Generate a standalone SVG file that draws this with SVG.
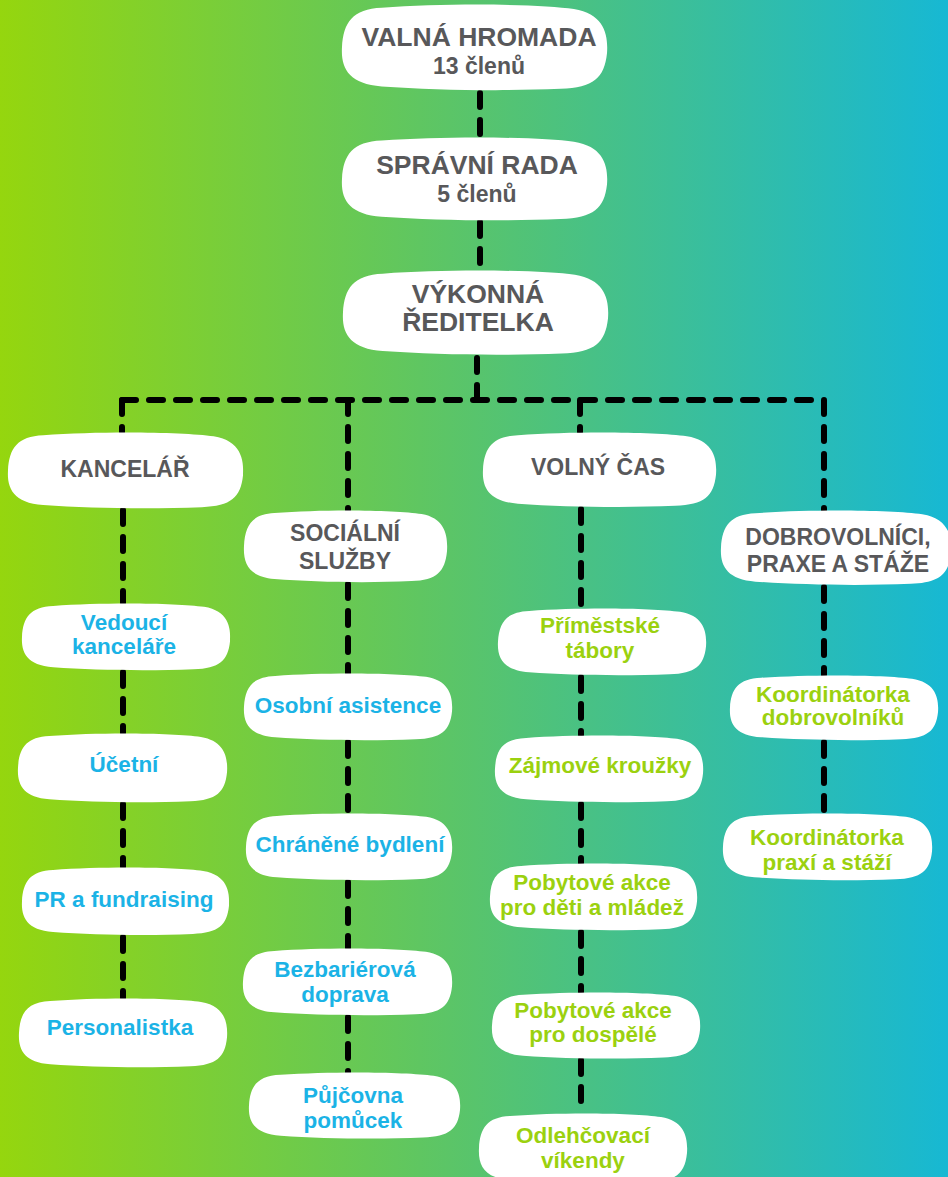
<svg xmlns="http://www.w3.org/2000/svg" xmlns:xlink="http://www.w3.org/1999/xlink" width="948" height="1177" viewBox="0 0 948 1177">
<defs>
<linearGradient id="bg" x1="0" y1="0" x2="1" y2="0">
<stop offset="0" stop-color="#95d60e"/>
<stop offset="0.5" stop-color="#58c46c"/>
<stop offset="1" stop-color="#17b8d3"/>
</linearGradient>
<path id="blob" d="M 30,3 C 80,-1 150,0 175,4 C 198,8 201,25 200,40 C 198,60 190,68 165,69 C 120,71 70,70 30,67 C 5,65 -1,52 0,35 C 1,15 8,4 30,3 Z"/>
<style>
.box{fill:#ffffff}
.t{font-family:"Liberation Sans",Arial,sans-serif;font-weight:700;text-anchor:middle}
.g{fill:#58585a;font-size:23px}
.g24{fill:#58585a;font-size:26.5px}
.b{fill:#1bb3e6;font-size:22.5px}
.l{fill:#9bd10f;font-size:22.5px}
.c{fill:none;stroke:#000;stroke-width:6;stroke-linecap:round;stroke-dasharray:14 13}
</style>
</defs>
<rect width="948" height="1177" fill="url(#bg)"/>
<g id="connectors">
<path class="c" d="M480,93 V136"/>
<path class="c" d="M480,222 V268"/>
<path class="c" d="M477,358 V400"/>
<path class="c" d="M122,400 H823"/>
<path class="c" d="M122,400 V432"/>
<path class="c" d="M123,510 V603"/>
<path class="c" d="M123,672 V733"/>
<path class="c" d="M123,804 V867"/>
<path class="c" d="M123,937 V998"/>
<path class="c" d="M348,400 V510"/>
<path class="c" d="M348,584 V673"/>
<path class="c" d="M348,742 V813"/>
<path class="c" d="M348,882 V948"/>
<path class="c" d="M348,1017 V1072"/>
<path class="c" d="M580,400 V432"/>
<path class="c" d="M581,509 V608"/>
<path class="c" d="M581,677 V735"/>
<path class="c" d="M581,804 V863"/>
<path class="c" d="M581,932 V992"/>
<path class="c" d="M581,1060 V1113"/>
<path class="c" d="M824,400 V510"/>
<path class="c" d="M824,587 V675"/>
<path class="c" d="M824,742 V813"/>
</g>
<g id="n-valna"><use xlink:href="#blob" class="box" transform="translate(342,4) scale(1.325,1.23)"/><text class="t g24" x="479" y="46">VALNÁ HROMADA</text><text class="t g" x="479" y="74">13 členů</text></g>
<g id="n-spravni"><use xlink:href="#blob" class="box" transform="translate(342,137) scale(1.325,1.19)"/><text class="t g24" x="477" y="174">SPRÁVNÍ RADA</text><text class="t g" x="477" y="202">5 členů</text></g>
<g id="n-vykonna"><use xlink:href="#blob" class="box" transform="translate(343,270) scale(1.325,1.21)"/><text class="t g24" x="478" y="303">VÝKONNÁ</text><text class="t g24" x="478" y="331">ŘEDITELKA</text></g>
<g id="n-kancelar"><use xlink:href="#blob" class="box" transform="translate(8,432) scale(1.175,1.09)"/><text class="t g" x="125" y="477">KANCELÁŘ</text></g>
<g id="n-socialni"><use xlink:href="#blob" class="box" transform="translate(244,510) scale(1.015,1.03)"/><text class="t g" x="345" y="541">SOCIÁLNÍ</text><text class="t g" x="345" y="569">SLUŽBY</text></g>
<g id="n-volny"><use xlink:href="#blob" class="box" transform="translate(483,432) scale(1.165,1.07)"/><text class="t g" x="598" y="475">VOLNÝ ČAS</text></g>
<g id="n-dobrovolnici"><use xlink:href="#blob" class="box" transform="translate(721,510) scale(1.15,1.07)"/><text class="t g" x="838" y="545">DOBROVOLNÍCI,</text><text class="t g" x="838" y="572">PRAXE A STÁŽE</text></g>
<g id="n-vedouci"><use xlink:href="#blob" class="box" transform="translate(22,603) scale(1.04,0.96)"/><text class="t b" x="124" y="630">Vedoucí</text><text class="t b" x="124" y="654">kanceláře</text></g>
<g id="n-ucetni"><use xlink:href="#blob" class="box" transform="translate(18,733) scale(1.045,0.99)"/><text class="t b" x="124" y="772">Účetní</text></g>
<g id="n-pr"><use xlink:href="#blob" class="box" transform="translate(22,867) scale(1.035,0.97)"/><text class="t b" x="124" y="907">PR a fundraising</text></g>
<g id="n-personalistka"><use xlink:href="#blob" class="box" transform="translate(19,998) scale(1.04,0.99)"/><text class="t b" x="120" y="1035">Personalistka</text></g>
<g id="n-osobni"><use xlink:href="#blob" class="box" transform="translate(244,673) scale(1.04,0.96)"/><text class="t b" x="348" y="713">Osobní asistence</text></g>
<g id="n-chranene"><use xlink:href="#blob" class="box" transform="translate(246,813) scale(1.03,0.96)"/><text class="t b" x="350" y="852">Chráněné bydlení</text></g>
<g id="n-bezbarierova"><use xlink:href="#blob" class="box" transform="translate(243,948) scale(1.045,0.96)"/><text class="t b" x="345" y="977">Bezbariérová</text><text class="t b" x="345" y="1002">doprava</text></g>
<g id="n-pujcovna"><use xlink:href="#blob" class="box" transform="translate(249,1072) scale(1.055,0.95)"/><text class="t b" x="353" y="1103">Půjčovna</text><text class="t b" x="353" y="1128">pomůcek</text></g>
<g id="n-primestske"><use xlink:href="#blob" class="box" transform="translate(498,608) scale(1.04,0.96)"/><text class="t l" x="600" y="633">Příměstské</text><text class="t l" x="600" y="658">tábory</text></g>
<g id="n-zajmove"><use xlink:href="#blob" class="box" transform="translate(495,735) scale(1.04,0.96)"/><text class="t l" x="600" y="773">Zájmové kroužky</text></g>
<g id="n-pobytove-deti"><use xlink:href="#blob" class="box" transform="translate(490,863) scale(1.035,0.96)"/><text class="t l" x="592" y="890">Pobytové akce</text><text class="t l" x="592" y="915">pro děti a mládež</text></g>
<g id="n-pobytove-dospele"><use xlink:href="#blob" class="box" transform="translate(492,992) scale(1.04,0.95)"/><text class="t l" x="593" y="1018">Pobytové akce</text><text class="t l" x="593" y="1042">pro dospělé</text></g>
<g id="n-odlehcovaci"><use xlink:href="#blob" class="box" transform="translate(479,1113) scale(1.04,1.0)"/><text class="t l" x="583" y="1143">Odlehčovací</text><text class="t l" x="583" y="1168">víkendy</text></g>
<g id="n-koord-dobr"><use xlink:href="#blob" class="box" transform="translate(730,675) scale(1.04,0.93)"/><text class="t l" x="833" y="702">Koordinátorka</text><text class="t l" x="833" y="725">dobrovolníků</text></g>
<g id="n-koord-praxi"><use xlink:href="#blob" class="box" transform="translate(723,813) scale(1.045,0.96)"/><text class="t l" x="827" y="845">Koordinátorka</text><text class="t l" x="827" y="870">praxí a stáží</text></g>
</svg>
